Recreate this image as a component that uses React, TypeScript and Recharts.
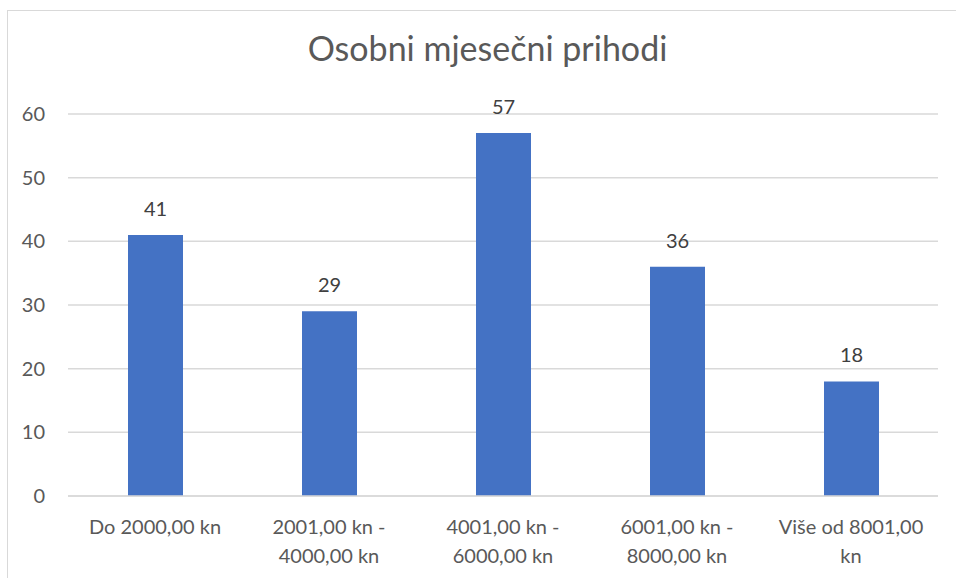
import React from 'react';
import { BarChart, Bar, XAxis, YAxis, CartesianGrid, LabelList } from 'recharts';

const categories = ['Do 2000,00 kn', '2001,00 kn - 4000,00 kn', '4001,00 kn - 6000,00 kn', '6001,00 kn - 8000,00 kn', 'Više od 8001,00 kn'];
const counts = [41, 29, 57, 36, 18];
const yTicks = [0, 10, 20, 30, 40, 50, 60];

const data = categories.map((name, i) => ({ name, value: counts[i] }));

const FONT = 'Lato, "Open Sans", sans-serif';

// greedy word wrap, about 15 characters per line like the original
const wrap = (s: string, max = 15) => {
  const lines: string[] = [];
  let cur = '';
  s.split(' ').forEach(w => {
    const next = cur ? cur + ' ' + w : w;
    if (next.length > max && cur) {
      lines.push(cur);
      cur = w;
    } else {
      cur = next;
    }
  });
  if (cur) lines.push(cur);
  return lines;
};

const CategoryTick: React.FC<any> = ({ x, y, payload }) => (
  <text x={x} y={y} textAnchor="middle" fill="#595959" fontSize={20} fontFamily={FONT}>
    {wrap(String(payload.value)).map((line, i) => (
      <tspan key={i} x={x} dy={i === 0 ? 38 : 29}>
        {line}
      </tspan>
    ))}
  </text>
);

const App: React.FC = () => {
  return (
    <div style={{ position: 'absolute', left: 0, top: 0, width: 956, height: 578, background: '#fff', overflow: 'hidden' }}>
      <div
        style={{
          position: 'absolute',
          left: 7,
          top: 10,
          width: 980,
          height: 600,
          border: '1px solid #d9d9d9',
          boxSizing: 'border-box',
        }}
      />
      <div
        style={{
          position: 'absolute',
          left: 0,
          top: 28,
          width: 975,
          lineHeight: '40px',
          textAlign: 'center',
          fontFamily: FONT,
          fontSize: 34,
          color: '#595959',
        }}
      >
        Osobni mjesečni prihodi
      </div>
      <BarChart
        width={956}
        height={578}
        data={data}
        margin={{ top: 114, right: 18, left: 0, bottom: 0 }}
        barCategoryGap={0}
        style={{ position: 'absolute', left: 0, top: 0 }}
      >
        <CartesianGrid vertical={false} stroke="#d9d9d9" strokeWidth={1.5} />
        <XAxis
          dataKey="name"
          height={82}
          interval={0}
          axisLine={{ stroke: '#d9d9d9', strokeWidth: 1.5 }}
          tickLine={false}
          tickSize={0}
          tickMargin={0}
          tick={<CategoryTick />}
        />
        <YAxis
          width={68}
          domain={[0, 60]}
          ticks={yTicks}
          axisLine={false}
          tickLine={false}
          tickSize={0}
          tickMargin={23}
          tick={{ fill: '#595959', fontSize: 20, fontFamily: FONT }}
        />
        <Bar dataKey="value" fill="#4472c4" barSize={55} isAnimationActive={false}>
          <LabelList dataKey="value" position="top" offset={19} fill="#404040" fontSize={20} fontFamily={FONT} />
        </Bar>
      </BarChart>
    </div>
  );
};

export default App;
